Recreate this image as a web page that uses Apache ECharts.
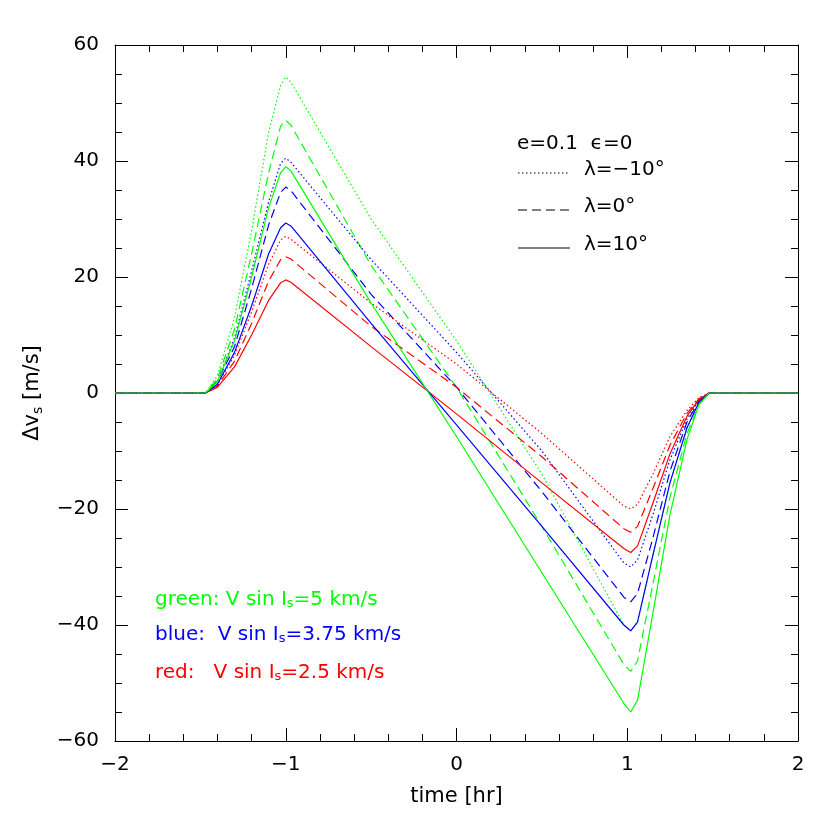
<!DOCTYPE html>
<html><head><meta charset="utf-8">
<script src="https://cdn.jsdelivr.net/npm/echarts@6/dist/echarts.min.js"></script>
<style>html,body{margin:0;padding:0;background:#fff}#c{width:830px;height:830px}</style>
</head><body><div id="c"></div>
<script>
const xs = [-2,-1.47,-1.4,-1.3,-1.2,-1.1,-1.03,-1.0,-0.97,-0.5,0,0.5,0.98,1.02,1.06,1.15,1.25,1.35,1.42,1.48,2];
const greenSolid  = [0,0,2,9,20,32,38,39,38.3,15.5,-7.5,-31,-53.5,-55,-53,-38,-21,-8,-2,0,0];
const greenDashed = [0,0,2.5,11,24,38,46,47,46.2,22,1,-23,-46.8,-48,-46.2,-33,-18,-7,-2,0,0];
const greenDotted = [0,0,3,13,28,45,53,54.5,53.6,30,9,-14,-40,-41,-39.5,-28,-15.5,-6,-1.6,0,0];
const blueSolid   = [0,0,1.5,7,15,24,28.5,29.3,28.8,12,-5.5,-23,-40,-41,-39.5,-28,-15.5,-6,-1.6,0,0];
const blueDashed  = [0,0,2,8,18,29,34.6,35.5,34.9,17,1,-17,-35.2,-36,-34.6,-25,-13.5,-5,-1.4,0,0];
const blueDotted  = [0,0,2,9.5,21,33,39.6,40.5,39.8,23,7,-10,-29.3,-30,-28.8,-21,-11.5,-4.5,-1.2,0,0];
const redSolid    = [0,0,1,4.5,10,16,19,19.5,19.1,8,-3.6,-15.5,-26.8,-27.5,-26.4,-19,-10.5,-4,-1.1,0,0];
const redDashed   = [0,0,1.2,5.5,12,19.3,23,23.5,23.1,11.5,1,-11,-23.4,-24,-23,-16.5,-9,-3.5,-1,0,0];
const redDotted   = [0,0,1.4,6.5,14,22.2,26.4,27,26.5,15.5,5,-7,-19.5,-20,-19.2,-14,-7.5,-3,-0.8,0,0];

const F = 'DejaVu Sans';
function ser(vals, color, type){
  return {type:'line', data: xs.map((x,i)=>[x,vals[i]]), showSymbol:false, smooth:false,
    lineStyle:{color, width:1.2, type: type==='dotted'?[1.5,2.5]:(type==='dashed'?[9,5]:'solid')}, z:3};
}
function ax(extra, split){
  return Object.assign({axisLine:{onZero:false, lineStyle:{color:'#000',width:1}}, axisTick:{inside:true,length:13,lineStyle:{color:'#000'}},
    minorTick:{show:true,splitNumber:split,length:7,lineStyle:{color:'#000'}}, splitLine:{show:false}}, extra);
}
const chart = echarts.init(document.getElementById('c'));
const rich = {s:{fontSize:13, verticalAlign:'bottom', padding:[8,0,0,0], fontFamily:F}};
chart.setOption({
  animation:false,
  grid:{left:115, right:32, top:45, bottom:89},
  xAxis:[
    ax({type:'value', min:-2, max:2, interval:1, position:'bottom',
      name:'time [hr]', nameLocation:'middle', nameGap:45, nameTextStyle:{fontSize:21,fontFamily:F,color:'#000'},
      axisLabel:{fontSize:20,fontFamily:F,color:'#000',margin:14, formatter:v=>String(v).replace('-','−')}}, 5),
    ax({type:'value', min:-2, max:2, interval:1, position:'top', axisLabel:{show:false}}, 5)
  ],
  yAxis:[
    ax({type:'value', min:-60, max:60, interval:20, position:'left',
      name:'{a|Δv}{s|s}{a| [m/s]}', nameLocation:'middle', nameGap:70, nameRotate:90,
      nameTextStyle:{fontSize:21,fontFamily:F,color:'#000', rich:{a:{fontSize:21,fontFamily:F}, s:{fontSize:14,fontFamily:F,padding:[10,0,0,0]}}},
      axisLabel:{fontSize:20,fontFamily:F,color:'#000',margin:16, formatter:v=>String(v).replace('-','−')}}, 4),
    ax({type:'value', min:-60, max:60, interval:20, position:'right', axisLabel:{show:false}}, 4)
  ],
  series:[
    ser(greenDotted,'#00ff00','dotted'), ser(greenDashed,'#00ff00','dashed'), ser(blueDotted,'#0000ff','dotted'),
    ser(blueDashed,'#0000ff','dashed'), ser(redDotted,'#ff0000','dotted'), ser(redDashed,'#ff0000','dashed'),
    ser(redSolid,'#ff0000','solid'), ser(blueSolid,'#0000ff','solid'), ser(greenSolid,'#00ff00','solid')
  ],
  graphic:[
    {type:'text', left:517, top:134, style:{text:'e=0.1  ϵ=0', font:'20px "DejaVu Sans"', fill:'#000'}},
    {type:'line', shape:{x1:518,y1:173,x2:570,y2:173}, style:{stroke:'#000',lineWidth:1.2,lineDash:[1.5,2.5]}},
    {type:'text', left:584, top:160, style:{text:'λ=−10°', font:'20px "DejaVu Sans"', fill:'#000'}},
    {type:'line', shape:{x1:518,y1:210,x2:570,y2:210}, style:{stroke:'#000',lineWidth:1.2,lineDash:[9,5]}},
    {type:'text', left:584, top:197, style:{text:'λ=0°', font:'20px "DejaVu Sans"', fill:'#000'}},
    {type:'line', shape:{x1:518,y1:248,x2:570,y2:248}, style:{stroke:'#000',lineWidth:1.2}},
    {type:'text', left:584, top:235, style:{text:'λ=10°', font:'20px "DejaVu Sans"', fill:'#000'}},
    {type:'text', left:155, top:590, style:{text:'green: V sin I{s|s}=5 km/s', rich, font:'20px "DejaVu Sans"', fill:'#00ff00'}},
    {type:'text', left:155, top:625, style:{text:'blue:  V sin I{s|s}=3.75 km/s', rich, font:'20px "DejaVu Sans"', fill:'#0000ff'}},
    {type:'text', left:155, top:663, style:{text:'red:   V sin I{s|s}=2.5 km/s', rich, font:'20px "DejaVu Sans"', fill:'#ff0000'}}
  ]
});
</script></body></html>
